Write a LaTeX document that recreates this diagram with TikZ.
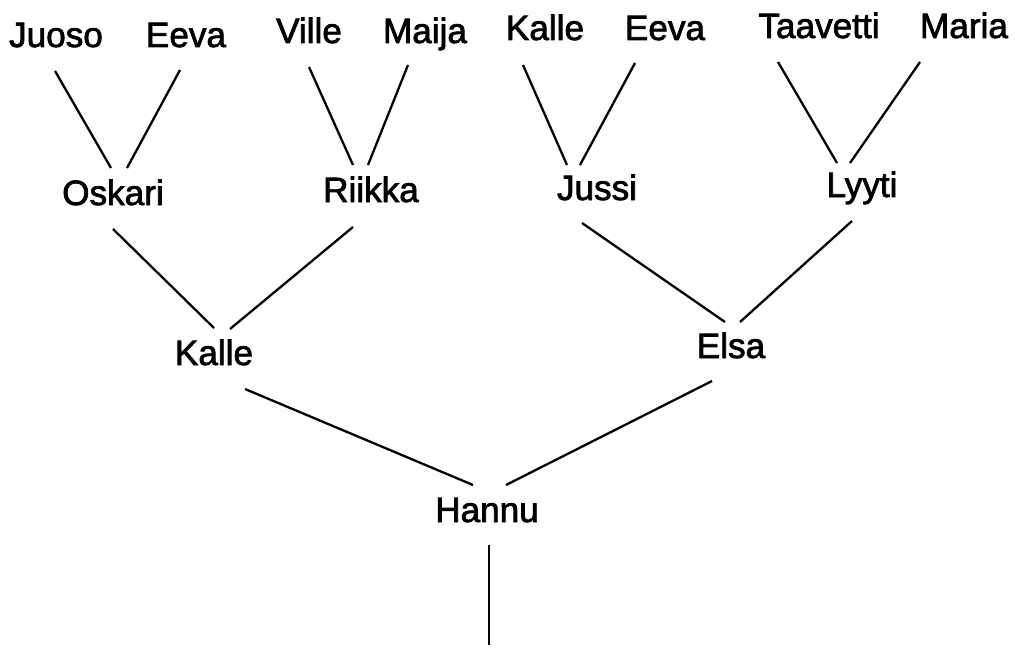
\documentclass[tikz,border=0pt]{standalone}
\usepackage{fontspec}
\setmainfont{Liberation Sans}[AutoFakeBold=2]
\usetikzlibrary{positioning,calc}
\tikzset{
	person/.style = {anchor=base, inner sep=0pt, font=\bfseries\fontsize{20}{22}\selectfont},
	link/.style   = {line width=1.3pt},
	tmp/.style    = {coordinate}
}

\begin{document}
\begin{tikzpicture}[x=0.02cm, y=-0.02cm]
	\useasboundingbox (0,0) rectangle (1024,652);
	% ========================== Nodes ============================
	% Great-grandparents
	\node [person] (juoso)    at (56,47)  {Juoso};
	\node [person] (eevaA)    at (186,47) {Eeva};
	\node [person] (ville)    at (309,43) {Ville};
	\node [person] (maija)    at (425,43) {Maija};
	\node [person] (kalleA)   at (545,40) {Kalle};
	\node [person] (eevaB)    at (665,40) {Eeva};
	\node [person] (taavetti) at (819,38) {Taavetti};
	\node [person] (maria)    at (964,38) {Maria};
	% Grandparents
	\node [person] (oskari) at (113,205) {Oskari};
	\node [person] (riikka) at (371,202) {Riikka};
	\node [person] (jussi)  at (597,200) {Jussi};
	\node [person] (lyyti)  at (862,197) {Lyyti};
	% Parents
	\node [person] (kalleB) at (214,365) {Kalle};
	\node [person] (elsa)   at (731,358) {Elsa};
	% Child
	\node [person] (hannu) at (487,522) {Hannu};
	\node [tmp] (tmpdown) at (489,645) {};

	% ========================== Lines ============================
	% Great-grandparents to grandparents
	\draw [link] ($(juoso.base)+(-1,24)$)    -- ($(oskari.base)+(-2,-37)$);
	\draw [link] ($(eevaA.base)+(-6,23)$)    -- ($(oskari.base)+(14,-37)$);
	\draw [link] ($(ville.base)+(0,24)$)     -- ($(riikka.base)+(-18,-37)$);
	\draw [link] ($(maija.base)+(-17,22)$)   -- ($(riikka.base)+(-3,-37)$);
	\draw [link] ($(kalleA.base)+(-22,25)$)  -- ($(jussi.base)+(-30,-35)$);
	\draw [link] ($(eevaB.base)+(-30,23)$)   -- ($(jussi.base)+(-17,-35)$);
	\draw [link] ($(taavetti.base)+(-41,24)$) -- ($(lyyti.base)+(-25,-34)$);
	\draw [link] ($(maria.base)+(-44,24)$)   -- ($(lyyti.base)+(-12,-34)$);

	% Grandparents to parents
	\draw [link] ($(oskari.base)+(0,24)$)    -- ($(kalleB.base)+(0,-37)$);
	\draw [link] ($(riikka.base)+(-18,25)$)  -- ($(kalleB.base)+(16,-36)$);
	\draw [link] ($(jussi.base)+(-15,23)$)   -- ($(elsa.base)+(-6,-36)$);
	\draw [link] ($(lyyti.base)+(-10,24)$)   -- ($(elsa.base)+(9,-36)$);

	% Parents to child
	\draw [link] ($(kalleB.base)+(31,24)$)   -- ($(hannu.base)+(-14,-37)$);
	\draw [link] ($(elsa.base)+(-19,23)$)    -- ($(hannu.base)+(19,-37)$);
	\draw [link] ($(hannu.base)+(2,23)$)     -- (tmpdown);
\end{tikzpicture}
\end{document}
